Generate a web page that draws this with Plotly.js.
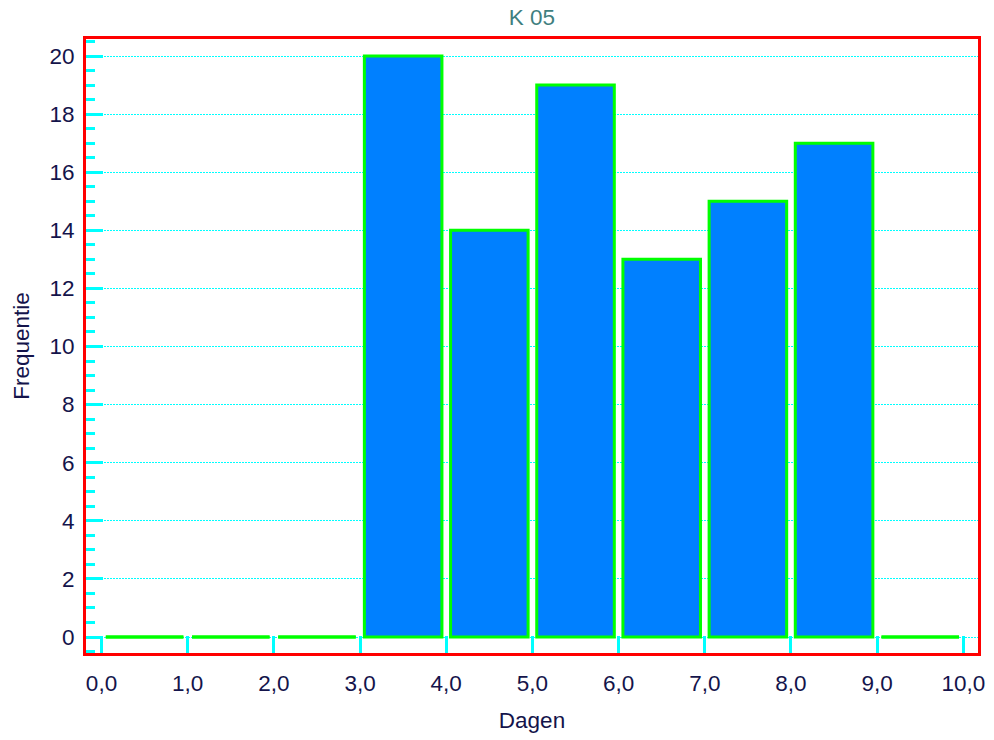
<!DOCTYPE html>
<html>
<head>
<meta charset="utf-8">
<script src="https://cdn.plot.ly/plotly-3.0.1.min.js"></script>
<style>html,body{margin:0;padding:0;background:#fff;}#chart{width:994px;height:740px;}</style>
</head>
<body>
<div id="chart"></div>
<script>
// Data
const binStarts = [0, 1, 2, 3, 4, 5, 6, 7, 8, 9];
const frequencies = [0, 0, 0, 20, 14, 19, 13, 15, 17, 0];
const xTickValues = [0, 1, 2, 3, 4, 5, 6, 7, 8, 9, 10];
const chartTitle = 'K 05';
const xTitle = 'Dagen';
const yTitle = 'Frequentie';

const binWidth = 1;
const barFrac = 0.9;

const textColor = '#14144b';
const cyan = '#00ffff';
const fontFam = 'Liberation Sans, Arial, sans-serif';
const fs = 22.5;

const barTrace = {
  type: 'bar',
  x: binStarts.map(b => b + binWidth / 2),
  y: frequencies,
  width: binWidth * barFrac,
  marker: { color: '#0080ff', line: { color: '#00ff00', width: 3 } },
  hoverinfo: 'x+y',
  showlegend: false
};

const zx = [], zy = [];
binStarts.forEach((b, i) => {
  if (frequencies[i] === 0) {
    const c = b + binWidth / 2, h = binWidth * barFrac / 2;
    zx.push(c - h, c + h, null);
    zy.push(0, 0, null);
  }
});
const zeroTrace = {
  type: 'scatter', mode: 'lines', x: zx, y: zy,
  line: { color: '#00ff00', width: 3 },
  hoverinfo: 'skip', showlegend: false, cliponaxis: false
};

const layout = {
  width: 994, height: 740,
  paper_bgcolor: '#ffffff', plot_bgcolor: '#ffffff',
  separators: ', ',
  margin: { l: 86, r: 16, t: 39, b: 87, pad: 0 },
  font: { family: fontFam, color: textColor, size: fs },
  title: {
    text: chartTitle,
    font: { family: fontFam, size: fs, color: '#3f7f7f' },
    x: 0.5, xref: 'paper', xanchor: 'center',
    y: 1 - 17 / 740, yref: 'container', yanchor: 'middle'
  },
  bargap: 0,
  xaxis: {
    range: [-0.18, 10.17],
    tickmode: 'array', tickvals: xTickValues,
    tickformat: '.1f',
    ticks: 'inside', ticklen: 17, tickwidth: 3, tickcolor: cyan,
    showline: true, mirror: true, linecolor: '#ff0000', linewidth: 3,
    showgrid: false, zeroline: false,
    tickfont: { size: fs, color: textColor },
    ticklabelstandoff: 8,
    title: { text: xTitle, font: { size: fs, color: textColor }, standoff: 18 }
  },
  yaxis: {
    range: [-0.55, 20.585],
    tick0: 0, dtick: 2,
    ticks: 'inside', ticklen: 17, tickwidth: 3, tickcolor: cyan,
    minor: { dtick: 0.5, tick0: 0, ticks: 'inside', ticklen: 9, tickwidth: 3, tickcolor: cyan, showgrid: false },
    showline: true, mirror: true, linecolor: '#ff0000', linewidth: 3,
    showgrid: true, gridcolor: cyan, gridwidth: 1, griddash: '2px,1px',
    zeroline: false,
    tickfont: { size: fs, color: textColor },
    ticklabelstandoff: 4,
    title: { text: yTitle, font: { size: fs, color: textColor }, standoff: 14 }
  }
};

Plotly.newPlot('chart', [barTrace, zeroTrace], layout, { displayModeBar: false, staticPlot: true });
</script>
</body>
</html>
